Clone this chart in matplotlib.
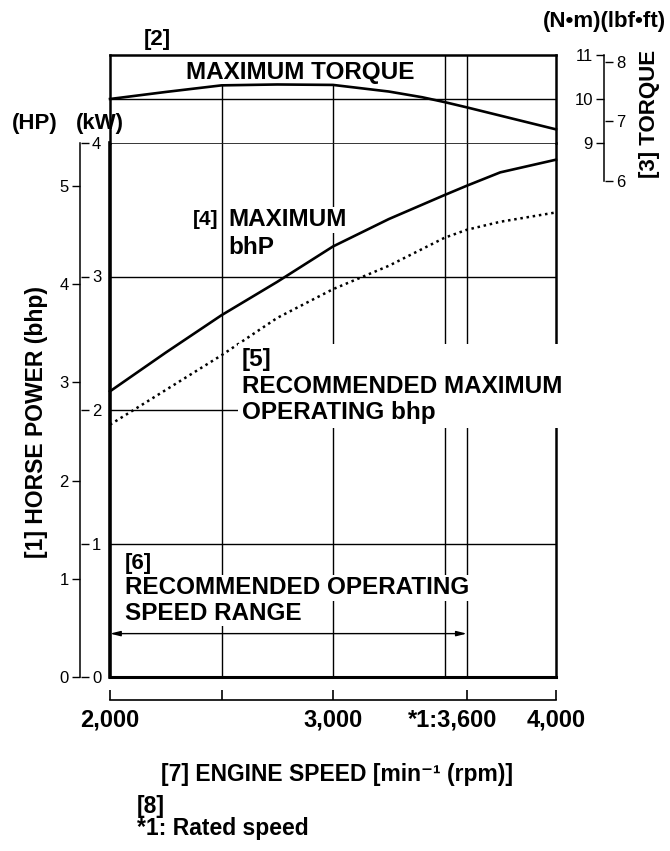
import matplotlib

matplotlib.use("Agg")
import matplotlib.pyplot as plt
import numpy as np
from matplotlib.transforms import ScaledTranslation

W, H = 670, 851
plt.rcParams["font.family"] = ["Liberation Sans", "DejaVu Sans"]

# engine speed samples (rpm) and power curves (kW)
rpm = [2000, 2250, 2500, 2750, 3000, 3250, 3500, 3600, 3750, 4000]
max_kw = [2.14, 2.43, 2.71, 2.96, 3.225, 3.43, 3.61, 3.68, 3.78, 3.875]
rec_kw = [1.89, 2.15, 2.41, 2.69, 2.905, 3.08, 3.29, 3.35, 3.41, 3.48]

# maximum torque curve (N*m)
torque_rpm = [2000, 2250, 2500, 2750, 3000, 3250, 3400, 3500, 3600, 4000]
torque_nm = [10.0, 10.16, 10.31, 10.33, 10.32, 10.17, 10.04, 9.93, 9.81, 9.31]

grid_rpm = [2500, 3000, 3500, 3600]
op_range = [2000, 3600]
rpm_ticks = [2000, 2500, 3000, 3600, 4000]
rpm_labels = ["2,000", "", "3,000", "*1:3,600", "4,000"]
kw_ticks = [0, 1, 2, 3, 4]
hp_ticks = [0, 1, 2, 3, 4, 5]
nm_ticks = [9, 10, 11]
lbf_ticks = [6, 7, 8]

HP_TO_KW = 0.7355
LBF_TO_NM = 1.3558


def box(left, top, right, bottom):
    return [left / W, 1 - bottom / H, (right - left) / W, (bottom - top) / H]


def label(x, y, s, size=17, ha="left", va="center", **kw):
    fig.text(x / W, 1 - y / H, s, fontsize=size, fontweight="bold",
             ha=ha, va=va, **kw)


fig = plt.figure(figsize=(W / 100, H / 100), dpi=100)
white = dict(facecolor="white", edgecolor="none", pad=1)

# power panel
ax = fig.add_axes(box(110, 143, 556, 677))
ax.set_xlim(2000, 4000)
ax.set_ylim(0, 4)
ax.tick_params(left=False, bottom=False, labelleft=False, labelbottom=False)
for side, lw in [("left", 2.6), ("bottom", 2.2), ("right", 1.8), ("top", 1.1)]:
    ax.spines[side].set_linewidth(lw)
ax.vlines(grid_rpm, 0, 4, color="k", lw=1.0)
ax.hlines([1, 2, 3], 2000, 4000, color="k", lw=1.0)
ax.plot(rpm, max_kw, color="k", lw=1.9, clip_on=False, zorder=5)
ax.plot(rpm, rec_kw, color="k", lw=1.8, ls=(0, (1, 1.5)), clip_on=False, zorder=5)
ax.annotate("", xy=(op_range[1], 0.325), xytext=(op_range[0], 0.325),
            arrowprops=dict(arrowstyle="<|-|>,head_length=0.6,head_width=0.15",
                            color="k", lw=1.0, shrinkA=0, shrinkB=0))

# torque panel
axt = fig.add_axes(box(110, 55, 556, 143))
axt.set_xlim(2000, 4000)
axt.set_ylim(9, 11)
axt.tick_params(left=False, bottom=False, labelleft=False, labelbottom=False)
axt.spines["bottom"].set_visible(False)
for side in ["left", "right", "top"]:
    axt.spines[side].set_linewidth(1.8)
axt.hlines(10, 2000, 4000, color="k", lw=1.0)
for r in grid_rpm:
    top = np.interp(r, torque_rpm, torque_nm) if r <= 3000 else 11
    axt.vlines(r, 9, top, color="k", lw=1.0)
axt.plot(torque_rpm, torque_nm, color="k", lw=1.9, clip_on=False, zorder=5)

# HP / kW scale
axh = fig.add_axes(box(80, 143, 81, 677))
axh.set_ylim(0, 4)
axh.patch.set_visible(False)
for side in ["top", "right", "bottom"]:
    axh.spines[side].set_visible(False)
axh.spines["left"].set_linewidth(1.1)
axh.set_xticks([])
axh.set_yticks([h * HP_TO_KW for h in hp_ticks], labels=[str(h) for h in hp_ticks])
axh.tick_params(axis="y", direction="out", length=6, width=1, labelsize=12, pad=2)
axk = axh.twinx()
axk.set_ylim(0, 4)
for side in axk.spines:
    axk.spines[side].set_visible(False)
axk.set_yticks(kw_ticks, labels=[str(k) for k in kw_ticks])
axk.tick_params(axis="y", direction="out", length=6, width=1, labelsize=12, pad=2)

# torque scale (N*m / lbf*ft)
nm_low = lbf_ticks[0] * LBF_TO_NM
px_per_nm = (143 - 55) / 2
axq = fig.add_axes(box(604, 55, 605, 55 + (11 - nm_low) * px_per_nm))
axq.set_ylim(nm_low, 11)
axq.patch.set_visible(False)
for side in ["top", "right", "bottom"]:
    axq.spines[side].set_visible(False)
axq.spines["left"].set_linewidth(1.1)
axq.set_xticks([])
axq.set_yticks(nm_ticks, labels=[str(n) for n in nm_ticks])
axq.tick_params(axis="y", direction="out", length=6, width=1, labelsize=12, pad=2)
axl = axq.twinx()
axl.set_ylim(nm_low / LBF_TO_NM, 11 / LBF_TO_NM)
for side in axl.spines:
    axl.spines[side].set_visible(False)
axl.set_yticks(lbf_ticks, labels=[str(t) for t in lbf_ticks])
axl.tick_params(axis="y", direction="out", length=6, width=1, labelsize=12, pad=2)

# engine speed scale
axr = fig.add_axes(box(110, 699, 556, 700))
axr.set_xlim(2000, 4000)
axr.patch.set_visible(False)
for side in ["top", "right", "left"]:
    axr.spines[side].set_visible(False)
axr.spines["bottom"].set_linewidth(1.2)
axr.set_yticks([])
axr.set_xticks(rpm_ticks, labels=rpm_labels)
axr.tick_params(axis="x", direction="in", length=7, width=1.2, labelsize=17, pad=6)
for lab in axr.get_xticklabels():
    lab.set_fontweight("bold")
    if lab.get_text().startswith("*"):
        lab.set_transform(lab.get_transform()
                          + ScaledTranslation(-0.14, 0, fig.dpi_scale_trans))

# texts
label(604, 22, "(N•m)(lbf•ft)", size=16, ha="center")
label(157, 40, "[2]", size=16, ha="center")
label(300, 72, "MAXIMUM TORQUE", size=17.5, ha="center")
label(35, 123, "(HP)", size=16, ha="center")
label(100, 123, "(kW)", size=16, ha="center")
label(649, 114, "[3] TORQUE", size=16, ha="center", rotation=90)
label(37, 422, "[1] HORSE POWER (bhp)", size=16.5, ha="center", rotation=90)

label(193, 220, "[4]", size=15, bbox=white)
label(228, 220, "MAXIMUM", size=17.5, bbox=white)
label(228, 247, "bhP", size=17.5, bbox=white)

label(242, 348, "[5]\nRECOMMENDED MAXIMUM\nOPERATING bhp", size=17.5, va="top",
      linespacing=1.2, bbox=dict(facecolor="white", edgecolor="none", pad=3))

label(125, 563, "[6]", size=16, bbox=white)
label(125, 588, "RECOMMENDED OPERATING", size=17.5, bbox=white)
label(125, 613, "SPEED RANGE", size=17.5, bbox=white)

label(337, 775, "[7] ENGINE SPEED [min⁻¹ (rpm)]", size=16.5, ha="center")
label(137, 806, "[8]", size=16.5)
label(137, 828, "*1: Rated speed", size=16.5)

fig.savefig("out.png", dpi=100)
